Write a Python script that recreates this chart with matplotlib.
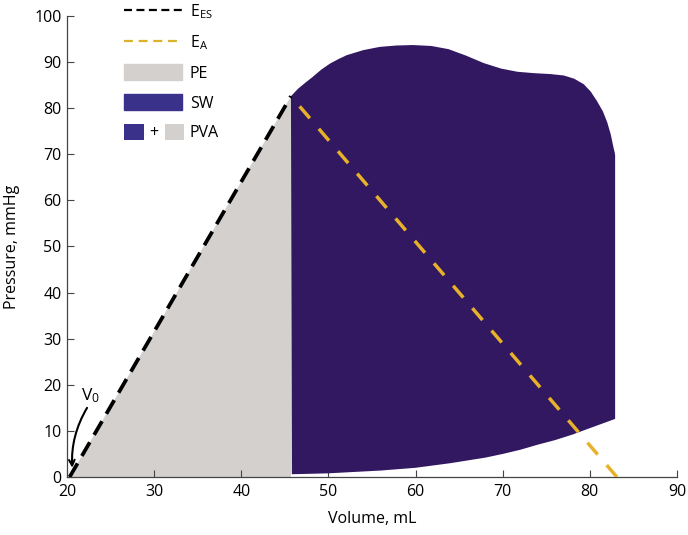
import matplotlib
matplotlib.use("Agg")
import matplotlib.pyplot as plt
from matplotlib.lines import Line2D
from matplotlib.patches import Patch, Rectangle
from matplotlib.legend_handler import HandlerBase
from matplotlib.text import Text

plt.rcParams['font.family'] = ['Open Sans', 'DejaVu Sans']

# ---- data ----
v0 = 20.3                      # unstressed volume V0 (mL)
v_es, p_es = 45.7, 82.6        # end-systolic point
v_ea_zero = 83.1               # volume where E_A line reaches 0 mmHg

# upper boundary of PV loop (ejection phase) from end-systole to end-diastole
top_v = [45.7, 46.5, 47.4, 48.2, 49.2, 50.2, 51.2, 52.1, 54.0, 55.9, 57.8, 59.7, 61.8,
         63.8, 65.8, 67.8, 69.8, 71.7, 73.6, 75.5, 77.0, 78.2, 79.3, 80.1,
         80.8, 81.5, 82.0, 82.4, 82.7, 82.85, 82.9]
top_p = [82.6, 84.2, 85.6, 86.8, 88.4, 89.7, 90.7, 91.5, 92.6, 93.3, 93.6, 93.7, 93.5,
         92.8, 91.4, 89.8, 88.6, 87.9, 87.6, 87.4, 87.1, 86.4, 85.2, 83.6,
         81.6, 79.3, 76.9, 74.3, 71.6, 70.4, 69.8]
# lower boundary (filling curve) from end-diastole back to end-systolic volume
bot_v = [82.9, 80.0, 78.0, 76.0, 74.0, 72.0, 70.0, 68.0, 66.0, 64.0, 62.0, 60.0,
         58.0, 56.0, 54.0, 52.0, 50.0, 48.0, 45.8]
bot_p = [12.6, 10.6, 9.2, 8.0, 7.0, 5.9, 5.0, 4.2, 3.6, 3.0, 2.5, 2.0,
         1.7, 1.4, 1.2, 1.0, 0.8, 0.7, 0.6]

xticks = [20, 30, 40, 50, 60, 70, 80, 90]
yticks = [0, 10, 20, 30, 40, 50, 60, 70, 80, 90, 100]

# ---- colours ----
c_sw = '#311860'
c_sw_leg = '#39318a'
c_pe = '#d3d0ce'
c_ea = '#e8b12a'

FS = 11.5

fig = plt.figure(figsize=(6.88, 5.35), dpi=100)
ax = fig.add_axes([67/688, 58/535, 610/688, 461/535])

# PE (grey triangle)
ax.fill([v0, v_es, v_es], [0, p_es, 0], color=c_pe, lw=0, zorder=1)
# SW (purple loop area)
ax.fill(top_v + bot_v, top_p + bot_p, color=c_sw, lw=0, zorder=2)

# E_ES line
ax.plot([v0, v_es], [0, p_es], color='black', lw=2.7, dashes=(4.2, 2.3), zorder=4,
        dash_capstyle='butt')
# E_A line (drawn from the volume axis upward so a dash touches the axis)
ax.plot([v_ea_zero, v_es], [0, p_es], color=c_ea, lw=2.5, dashes=(4.5, 4.0), zorder=3,
        dash_capstyle='butt')

# V0 annotation
ax.annotate('', xy=(20.6, 2.0), xytext=(22.3, 15.0),
            arrowprops=dict(arrowstyle='->', lw=1.5, color='black',
                            connectionstyle='arc3,rad=0.15',
                            shrinkA=0, shrinkB=0), zorder=5)
ax.text(22.7, 17.6, r'$\mathregular{V_0}$', fontsize=12.5, ha='center', va='center')

ax.set_xlim(20, 90)
ax.set_ylim(0, 100)
ax.set_xticks(xticks)
ax.set_yticks(yticks)
ax.tick_params(direction='in', length=5, width=0.8, colors='#444444',
               labelcolor='black', labelsize=FS)
ax.tick_params(axis='x', pad=5)
ax.tick_params(axis='y', pad=4)
for s in ['top', 'right']:
    ax.spines[s].set_visible(False)
for s in ['left', 'bottom']:
    ax.spines[s].set_color('#444444')
    ax.spines[s].set_linewidth(0.9)
ax.set_xlabel('Volume, mL', fontsize=FS, labelpad=8)
ax.set_ylabel('Pressure, mmHg', fontsize=FS, labelpad=10)


class PVAHandler(HandlerBase):
    def create_artists(self, legend, orig_handle, xdescent, ydescent,
                       width, height, fontsize, trans):
        w = width * 0.34
        r1 = Rectangle((-xdescent, -ydescent), w, height, fc=c_sw_leg, ec='none',
                       transform=trans)
        r2 = Rectangle((-xdescent + width * 0.70, -ydescent), w, height, fc=c_pe,
                       ec='none', transform=trans)
        t = Text(-xdescent + width * 0.515, -ydescent + height / 2 - 1, '+',
                 ha='center', va='center', fontsize=fontsize, transform=trans)
        return [r1, t, r2]


class PVAProxy:
    pass


handles = [
    Line2D([], [], color='black', lw=1.6, dashes=(3.6, 2.0)),
    Line2D([], [], color='#dcb22a', lw=1.6, dashes=(4.0, 2.6)),
    Patch(color=c_pe),
    Patch(color=c_sw_leg),
    PVAProxy(),
]
labels = [r'$\mathregular{E_{ES}}$', r'$\mathregular{E_{A}}$', 'PE', 'SW', 'PVA']
leg = ax.legend(handles, labels, loc='upper left', bbox_to_anchor=(0.094, 1.03),
                frameon=False, fontsize=FS, handlelength=3.6, handleheight=1.15,
                handletextpad=0.5, labelspacing=0.78, borderpad=0, borderaxespad=0,
                handler_map={PVAProxy: PVAHandler()})

fig.savefig('out.png', dpi=100)
